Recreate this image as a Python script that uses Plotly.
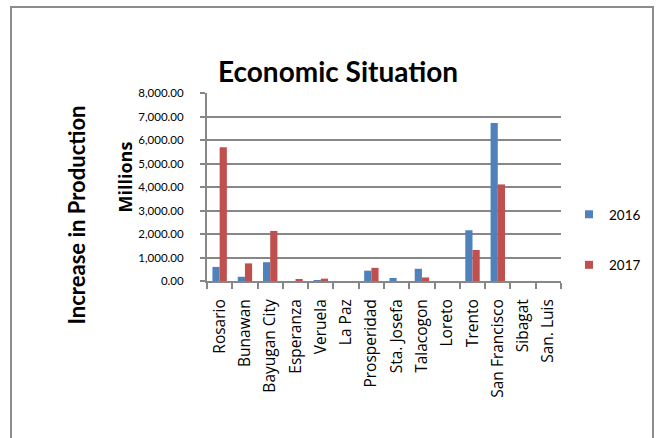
import plotly.graph_objects as go

categories = ["Rosario", "Bunawan", "Bayugan City", "Esperanza", "Veruela", "La Paz",
              "Prosperidad", "Sta. Josefa", "Talacogon", "Loreto", "Trento",
              "San Francisco", "Sibagat", "San. Luis"]
values_2016 = [600, 180, 800, 0, 20, 0, 440, 130, 520, 0, 2160, 6720, 0, 0]
values_2017 = [5690, 750, 2130, 60, 100, 0, 560, 0, 150, 0, 1320, 4110, 0, 0]
y_ticks = [0, 1000, 2000, 3000, 4000, 5000, 6000, 7000, 8000]

BLUE = "#4F81BD"
RED = "#C0504D"
GRID = "#878787"
FONT = "Lato"

fig = go.Figure()
fig.add_trace(go.Bar(x=categories, y=values_2016, name="2016", marker_color=BLUE,
                     marker_line_width=0, showlegend=False))
fig.add_trace(go.Bar(x=categories, y=values_2017, name="2017", marker_color=RED,
                     marker_line_width=0, showlegend=False))
# legend entries
fig.add_trace(go.Scatter(x=[None], y=[None], mode="markers", name="2016",
                         marker=dict(symbol="square", size=8, color=BLUE),
                         legendgroup="a"))
fig.add_trace(go.Scatter(x=[None], y=[None], mode="markers", name="2017",
                         marker=dict(symbol="square", size=8, color=RED),
                         legendgroup="b"))

L, R, T, B = 207, 104, 93, 157
W, H = 665, 438
pw, ph = W - L - R, H - T - B

def px(x):
    return (x - L) / pw

def py(y):
    return (H - B - y) / ph

fig.update_layout(
    width=W, height=H,
    margin=dict(l=L, r=R, t=T, b=B),
    paper_bgcolor="white", plot_bgcolor="white",
    barmode="group", bargap=0.43, bargroupgap=0.0,
    font=dict(family=FONT, color="black"),
    xaxis=dict(
        type="category", tickangle=-90, tickfont=dict(family="Open Sans", size=15.5),
        showline=True, linecolor=GRID, linewidth=2,
        ticks="outside", tickson="boundaries", ticklen=6, tickcolor=GRID, tickwidth=2,
        ticklabelstandoff=10,
        showgrid=False, range=[-0.5, len(categories) - 0.5],
    ),
    yaxis=dict(
        range=[0, 8000], tickvals=y_ticks, tickformat=",.2f",
        tickfont=dict(family=FONT, size=11.5),
        showline=True, linecolor=GRID, linewidth=2,
        showgrid=True, gridcolor=GRID, gridwidth=2,
        ticks="outside", ticklen=5, tickcolor=GRID, tickwidth=2,
        ticklabelstandoff=14, zeroline=False,
    ),
    legend=dict(x=px(569), y=py(240), xanchor="left", yanchor="middle",
                traceorder="grouped", tracegroupgap=30,
                font=dict(family=FONT, size=13.5), itemwidth=30,
                bgcolor="rgba(0,0,0,0)"),
)

fig.add_annotation(text="<b>Economic Situation</b>", xref="paper", yref="paper",
                   x=px(338), y=py(52), showarrow=False,
                   font=dict(family=FONT, size=28, color="black"))
fig.add_annotation(text="<b>Increase in Production</b>", xref="paper", yref="paper",
                   x=px(60), y=py(215), textangle=-90, showarrow=False,
                   font=dict(family=FONT, size=22, color="black"))
fig.add_annotation(text="<b>Millions</b>", xref="paper", yref="paper",
                   x=px(110), y=py(140), textangle=-90, showarrow=False,
                   font=dict(family="Open Sans", size=18, color="black"))

fig.add_shape(type="rect", xref="paper", yref="paper",
              x0=px(11), x1=px(653), y0=py(470), y1=py(7),
              line=dict(color="#8C8C8C", width=2), layer="below")

fig.write_html("out.html")
